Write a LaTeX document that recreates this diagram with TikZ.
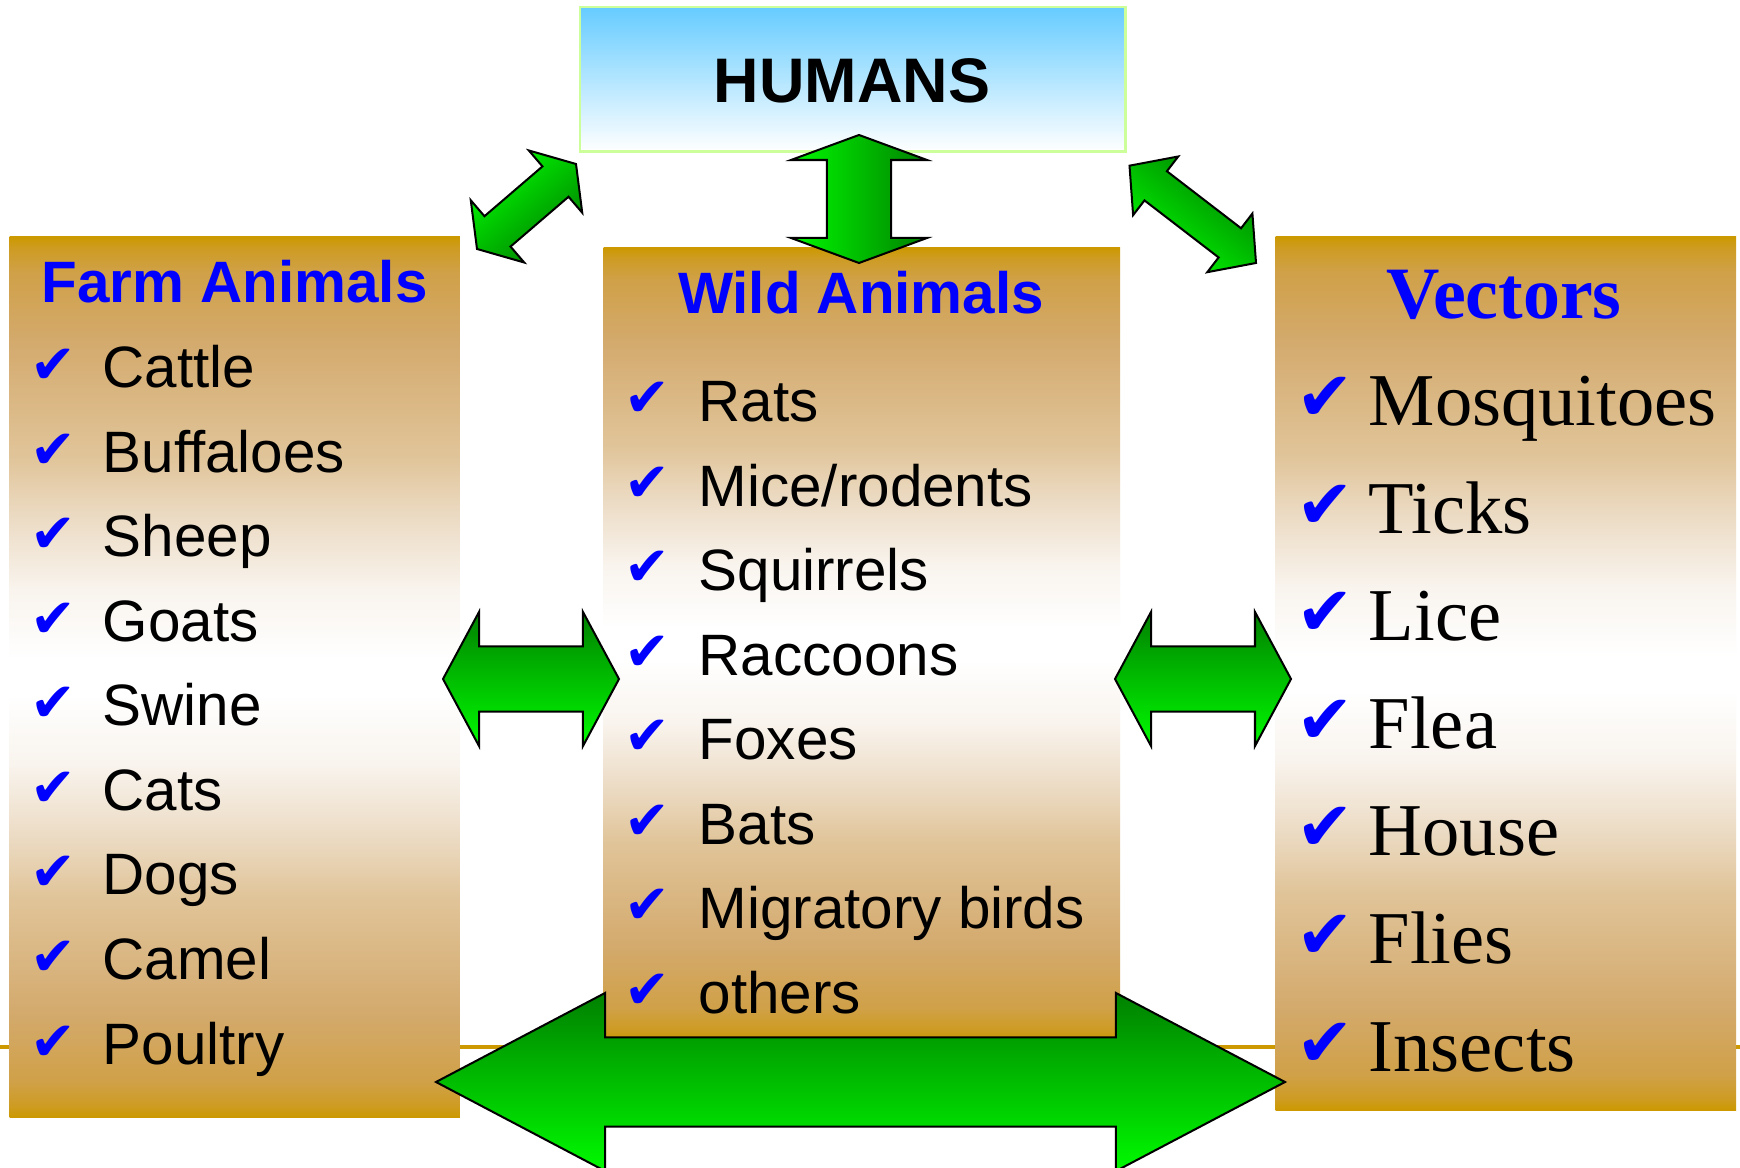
\documentclass[tikz,border=0pt]{standalone}
\usepackage{fontspec}
\setmainfont{Liberation Sans}
\newfontfamily\arialf{Liberation Sans}
\newfontfamily\tnrf{Liberation Serif}
\newfontfamily\djv{DejaVu Sans}
\usetikzlibrary{calc}
\definecolor{gold}{RGB}{204,153,0}
\definecolor{dkgreen}{RGB}{0,128,0}
\definecolor{brgreen}{RGB}{0,250,0}
\definecolor{skyblue}{RGB}{102,204,255}
\definecolor{limeborder}{RGB}{204,255,153}
\definecolor{chkblue}{RGB}{0,0,255}
\pgfdeclareverticalshading{panelshade}{100bp}{%
 rgb(0bp)=(0.80,0.60,0.00);
 rgb(25bp)=(0.80,0.60,0.00);
 rgb(25.7bp)=(0.808,0.612,0.14);
 rgb(27bp)=(0.815,0.63,0.28);
 rgb(31bp)=(0.83,0.667,0.43);
 rgb(37.5bp)=(0.88,0.77,0.60);
 rgb(41bp)=(0.925,0.86,0.77);
 rgb(45bp)=(0.975,0.955,0.93);
 rgb(49bp)=(1,1,1);
 rgb(51bp)=(1,1,1);
 rgb(55bp)=(0.975,0.955,0.93);
 rgb(59bp)=(0.925,0.86,0.77);
 rgb(62.5bp)=(0.88,0.77,0.60);
 rgb(69bp)=(0.83,0.667,0.43);
 rgb(73bp)=(0.815,0.63,0.28);
 rgb(74.3bp)=(0.808,0.612,0.14);
 rgb(75bp)=(0.80,0.60,0.00);
 rgb(100bp)=(0.80,0.60,0.00)}
\newcommand{\dbarrow}[6]{%
 \path[#6] (#1) -- ($(#1)!#3!(#2)!#4!90:(#2)$) -- ($(#1)!#3!(#2)!#5!90:(#2)$)
   -- ($(#2)!#3!(#1)!#5!-90:(#1)$) -- ($(#2)!#3!(#1)!#4!-90:(#1)$) -- (#2)
   -- ($(#2)!#3!(#1)!#4!90:(#1)$) -- ($(#2)!#3!(#1)!#5!90:(#1)$)
   -- ($(#1)!#3!(#2)!#5!-90:(#2)$) -- ($(#1)!#3!(#2)!#4!-90:(#2)$) -- cycle;}
\tikzset{
 arr/.style={draw=black, line width=0.57pt, line join=miter},
 harr/.style={arr, top color=dkgreen, bottom color=brgreen},
 varr/.style={arr, left color=brgreen, right color=dkgreen},
 panel/.style={rectangle, inner sep=0pt, anchor=north west, draw=none, shading=panelshade},
 ttl/.style={anchor=base, inner sep=0pt, text=chkblue, font=\arialf\bfseries\fontsize{16.6pt}{20pt}\selectfont},
 vttl/.style={anchor=base, inner sep=0pt, text=chkblue, font=\tnrf\bfseries\fontsize{21pt}{25pt}\selectfont},
 item/.style={anchor=base west, inner sep=0pt, font=\arialf\fontsize{16.6pt}{20pt}\selectfont},
 vitem/.style={anchor=base west, inner sep=0pt, font=\tnrf\fontsize{21.2pt}{25pt}\selectfont},
 chk/.style={anchor=base west, inner sep=0pt, text=chkblue, font=\djv\fontsize{15.5pt}{18pt}\selectfont},
 vchk/.style={chk, font=\djv\fontsize{19.5pt}{22pt}\selectfont}
}
\begin{document}
\begin{tikzpicture}[x=0.01cm, y=-0.01cm]
\useasboundingbox[fill=white] (0,0) rectangle (1740,1168);
% footer line
\coordinate (lineL) at (0,1047);
\coordinate (lineR) at (1740,1047);
\draw[gold, line width=1pt] (lineL) -- (lineR);
% panels
\node[panel, minimum width=4.50cm, minimum height=8.80cm] (farm) at (9,236) {};
\node[panel, minimum width=5.16cm, minimum height=7.92cm] (wild) at (603,247) {};
\node[panel, minimum width=4.60cm, minimum height=8.73cm] (vect) at (1275,236) {};
\node[anchor=north west, inner sep=0pt, minimum width=5.45cm, minimum height=1.44cm,
  draw=limeborder, line width=0.7pt, top color=skyblue, bottom color=white] (humanbox) at (579,6) {};
% titles
\node[anchor=base, inner sep=0pt, font=\arialf\bfseries\fontsize{17.9pt}{21pt}\selectfont] (humans) at (852,103) {HUMANS};
\node[ttl] (farmttl) at (234.5,303) {Farm Animals};
\node[ttl] (wildttl) at (861,314) {Wild Animals};
\node[vttl] (vectttl) at (1504,319) {Vectors};
% lists
\foreach \t [count=\i from 0] in {Cattle,Buffaloes,Sheep,Goats,Swine,Cats,Dogs,Camel,Poultry}{
  \node[chk] (fc\i) at (30,{384+84.5*\i}) {✔};
  \node[item] (f\i) at (102,{388+84.5*\i}) {\t};
}
\foreach \t [count=\i from 0] in {Rats,Mice/rodents,Squirrels,Raccoons,Foxes,Bats,Migratory birds,others}{
  \node[chk] (wc\i) at (624,{417+84.5*\i}) {✔};
  \node[item] (w\i) at (698,{421.7+84.5*\i}) {\t};
}
\foreach \t [count=\i from 0] in {Mosquitoes,Ticks,Lice,Flea,House,Flies,Insects}{
  \node[vchk] (vc\i) at (1296,{421+107.5*\i}) {✔};
  \node[vitem] (v\i) at (1368,{426+107.5*\i}) {\t};
}
% arrows
\coordinate (va1) at (859,135);   \coordinate (va2) at (859,263);
\coordinate (la1) at (443,679);   \coordinate (la2) at (619,679);
\coordinate (ra1) at (1115,679);  \coordinate (ra2) at (1291,679);
\coordinate (ba1) at (436,1082);  \coordinate (ba2) at (1285,1082);
\coordinate (ld1) at (477,249);   \coordinate (ld2) at (576,164);
\coordinate (rd1) at (1129.5,165.7); \coordinate (rd2) at (1256,263);
\dbarrow{ba1}{ba2}{1.69cm}{0.89cm}{0.445cm}{harr}
\dbarrow{la1}{la2}{0.36cm}{0.67cm}{0.325cm}{harr}
\dbarrow{ra1}{ra2}{0.36cm}{0.67cm}{0.325cm}{harr}
\dbarrow{va1}{va2}{0.25cm}{0.68cm}{0.32cm}{varr}
\dbarrow{ld1}{ld2}{0.27cm}{0.41cm}{0.20cm}{arr, top color=dkgreen, bottom color=brgreen, shading angle=-139.4}
\dbarrow{rd1}{rd2}{0.33cm}{0.37cm}{0.184cm}{arr, top color=dkgreen, bottom color=brgreen, shading angle=-37.6}
\end{tikzpicture}
\end{document}
